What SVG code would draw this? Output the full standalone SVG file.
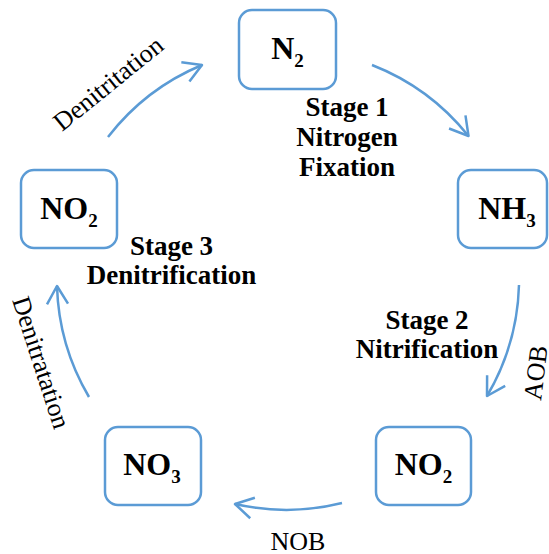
<svg xmlns="http://www.w3.org/2000/svg" width="549" height="554" viewBox="0 0 549 554">
  <style>
    .box { fill: #ffffff; stroke: #5B9BD5; stroke-width: 2.5; }
    text { font-family: 'Liberation Serif', 'DejaVu Serif', serif; fill: #000; }
    .node { font-weight: bold; font-size: 32px; text-anchor: middle; }
    .sub { font-size: 19px; }
    .stage { font-weight: bold; font-size: 27px; text-anchor: middle; }
    .lbl { font-size: 26px; }
    .arc { fill: none; stroke: #5B9BD5; stroke-width: 2.5; marker-end: url(#ah); }
  </style>
  <defs>
    <marker id="ah" markerUnits="userSpaceOnUse" orient="auto" refX="0" refY="0" markerWidth="1" markerHeight="1" overflow="visible">
      <path d="M-18,-10.5 L0,0 L-18,10.5" fill="none" stroke="#5B9BD5" stroke-width="2.5" stroke-linejoin="round"/>
    </marker>
  </defs>
  <rect width="549" height="554" fill="#ffffff"/>

  <g id="connectors">
    <path class="arc" d="M 372 65 A 231 231 0 0 1 468.5 136"/>
    <path class="arc" d="M 519 285 A 231 231 0 0 1 487 396"/>
    <path class="arc" d="M 342 503 A 231 231 0 0 1 235 504"/>
    <path class="arc" d="M 89 397 A 231 231 0 0 1 57 286"/>
    <path class="arc" d="M 108 137 A 231 231 0 0 1 202 65"/>
    <text class="lbl" font-family="Liberation Serif, serif" transform="translate(62,132) rotate(-39)">Denitritation</text>
    <text class="lbl" font-family="Liberation Serif, serif" font-size="25" transform="translate(12,300) rotate(72)">Denitratation</text>
    <text class="lbl" font-family="Liberation Serif, serif" font-size="25" transform="translate(541,401) rotate(-83)">AOB</text>
    <text class="lbl" font-family="Liberation Serif, serif" font-size="25" x="298" y="550" text-anchor="middle">NOB</text>
  </g>

  <g id="node-n2">
    <rect class="box" x="239" y="10" width="97" height="79" rx="13"/>
    <text class="node" font-family="Liberation Serif, serif" x="287.5" y="59">N<tspan class="sub" dy="8">2</tspan></text>
  </g>
  <g id="node-nh3">
    <rect class="box" x="458" y="170" width="89" height="78" rx="13"/>
    <text class="node" font-family="Liberation Serif, serif" x="507" y="219">NH<tspan class="sub" dy="8">3</tspan></text>
  </g>
  <g id="node-no2-left">
    <rect class="box" x="21" y="170" width="96" height="78" rx="13"/>
    <text class="node" font-family="Liberation Serif, serif" x="69" y="219">NO<tspan class="sub" dy="8">2</tspan></text>
  </g>
  <g id="node-no3">
    <rect class="box" x="105" y="427" width="96" height="78" rx="13"/>
    <text class="node" font-family="Liberation Serif, serif" x="152" y="475">NO<tspan class="sub" dy="8">3</tspan></text>
  </g>
  <g id="node-no2-bottom">
    <rect class="box" x="376" y="427" width="95" height="78" rx="13"/>
    <text class="node" font-family="Liberation Serif, serif" x="423.5" y="475">NO<tspan class="sub" dy="8">2</tspan></text>
  </g>

  <g id="stage1">
    <text class="stage" font-family="Liberation Serif, serif" x="347" y="116">Stage 1</text>
    <text class="stage" font-family="Liberation Serif, serif" x="347" y="146">Nitrogen</text>
    <text class="stage" font-family="Liberation Serif, serif" x="347" y="176">Fixation</text>
  </g>
  <g id="stage2">
    <text class="stage" font-family="Liberation Serif, serif" x="427" y="329">Stage 2</text>
    <text class="stage" font-family="Liberation Serif, serif" x="427" y="358">Nitrification</text>
  </g>
  <g id="stage3">
    <text class="stage" font-family="Liberation Serif, serif" x="171.5" y="255">Stage 3</text>
    <text class="stage" font-family="Liberation Serif, serif" x="171.5" y="284">Denitrification</text>
  </g>
</svg>
